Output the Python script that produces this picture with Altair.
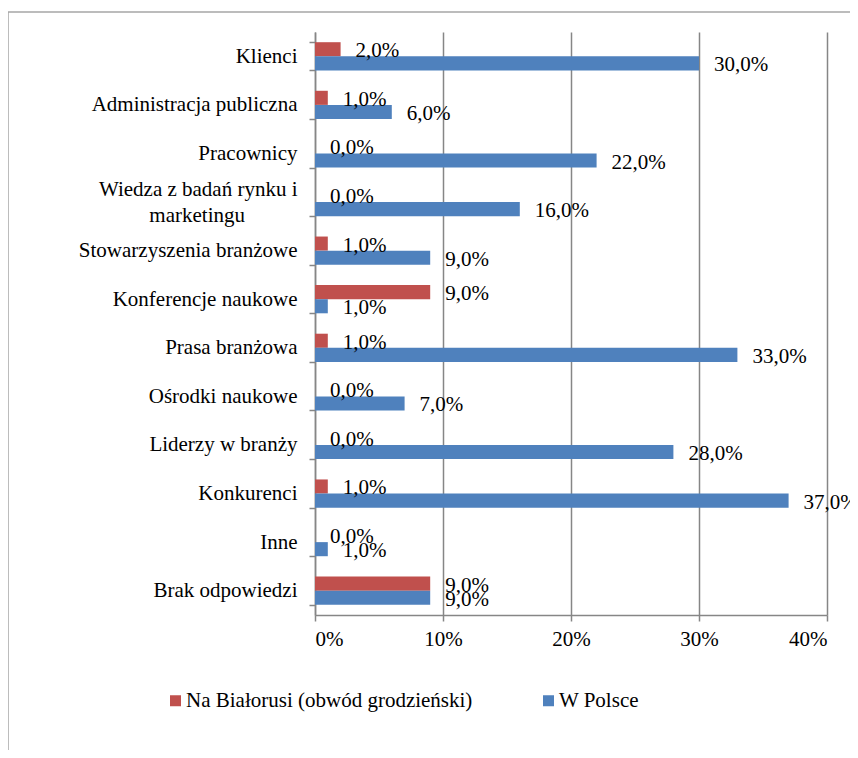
import altair as alt
import pandas as pd

categories = [
    "Klienci",
    "Administracja publiczna",
    "Pracownicy",
    "Wiedza z badań rynku i|marketingu",
    "Stowarzyszenia branżowe",
    "Konferencje naukowe",
    "Prasa branżowa",
    "Ośrodki naukowe",
    "Liderzy w branży",
    "Konkurenci",
    "Inne",
    "Brak odpowiedzi",
]
series_names = ["Na Białorusi (obwód grodzieński)", "W Polsce"]
belarus = [2.0, 1.0, 0.0, 0.0, 1.0, 9.0, 1.0, 0.0, 0.0, 1.0, 0.0, 9.0]
poland = [30.0, 6.0, 22.0, 16.0, 9.0, 1.0, 33.0, 7.0, 28.0, 37.0, 1.0, 9.0]
x_ticks = [0, 10, 20, 30, 40]
colors = ["#C0504D", "#4F81BD"]

rows = []
for c, b, p in zip(categories, belarus, poland):
    rows.append({"category": c, "series": series_names[0], "value": b})
    rows.append({"category": c, "series": series_names[1], "value": p})
df = pd.DataFrame(rows)

FONT = "Liberation Serif"
FS = 21

ZW = "\u200b"
NB = "\u00a0" * 10
label_expr = (
    "indexof(datum.label, '|') >= 0 ? "
    f"[split(datum.label, '|')[0], '{ZW}', split(datum.label, '|')[1] + '{NB}{ZW}'] "
    f": ['{ZW}', datum.label, '{ZW}']"
)

y_enc = alt.Y(
    "category:N",
    sort=categories,
    scale=alt.Scale(paddingInner=0.42, paddingOuter=0.21),
    axis=alt.Axis(
        title=None,
        labelExpr=label_expr,
        labelFont=FONT,
        labelFontSize=FS,
        labelColor="black",
        labelPadding=12,
        labelLineHeight=13,
        labelOffset=-13,
        labelLimit=400,
        tickBand="extent",
        tickSize=6,
        tickColor="#868686",
        domainColor="#868686",
        tickWidth=1.5,
        domainWidth=1.5,
    ),
)
yoff = alt.YOffset("series:N", sort=series_names, scale=alt.Scale(paddingInner=0, paddingOuter=0))

x_enc = alt.X(
    "value:Q",
    scale=alt.Scale(domain=[0, 40]),
    axis=alt.Axis(
        title=None,
        values=x_ticks,
        labelExpr="datum.value + '%'",
        labelFont=FONT,
        labelFontSize=FS,
        labelColor="black",
        labelPadding=7,
        tickSize=6,
        tickColor="#868686",
        domainColor="#868686",
        gridColor="#868686",
        gridWidth=1.5,
        tickWidth=1.5,
        domainWidth=1.5,
    ),
)

base = alt.Chart(df)

bars = base.mark_bar().encode(
    x=x_enc,
    y=y_enc,
    yOffset=yoff,
    color=alt.Color(
        "series:N",
        sort=series_names,
        scale=alt.Scale(domain=series_names, range=colors),
        legend=alt.Legend(
            title=None,
            orient="none",
            legendX=-150,
            legendY=658,
            direction="horizontal",
            symbolType="square",
            symbolSize=121,
            symbolStrokeWidth=0,
            labelFont=FONT,
            labelFontSize=FS,
            labelColor="black",
            labelOffset=0,
            columnPadding=65,
            labelLimit=400,
        ),
    ),
)

labels = base.transform_calculate(
    lab="replace(format(datum.value, '.1f'), '.', ',') + '%'"
).mark_text(
    align="left", baseline="middle", dx=15, dy=2, font=FONT, fontSize=FS, color="black"
).encode(
    x=alt.X("value:Q"),
    y=alt.Y("category:N", sort=categories),
    yOffset=alt.YOffset("series:N", sort=series_names),
    text="lab:N",
)

border = base.transform_filter(
    "datum.category == 'Klienci' && datum.series == 'W Polsce'"
).mark_rect(
    fill=None, stroke="#A6A6A6", strokeWidth=1.5, clip=False
).encode(
    x=alt.value(-307), x2=alt.value(700), y=alt.value(-20), y2=alt.value(900)
)

chart = alt.layer(bars, labels, border).properties(
    width=512,
    height=583,
    autosize=alt.AutoSizeParams(type="none"),
    padding={"left": 307, "top": 24, "right": 23, "bottom": 135},
).configure_view(stroke=None).configure_axisX(grid=True).configure_axisY(grid=False)

chart.save("out.html", embed_options={"renderer": "svg", "actions": False})
